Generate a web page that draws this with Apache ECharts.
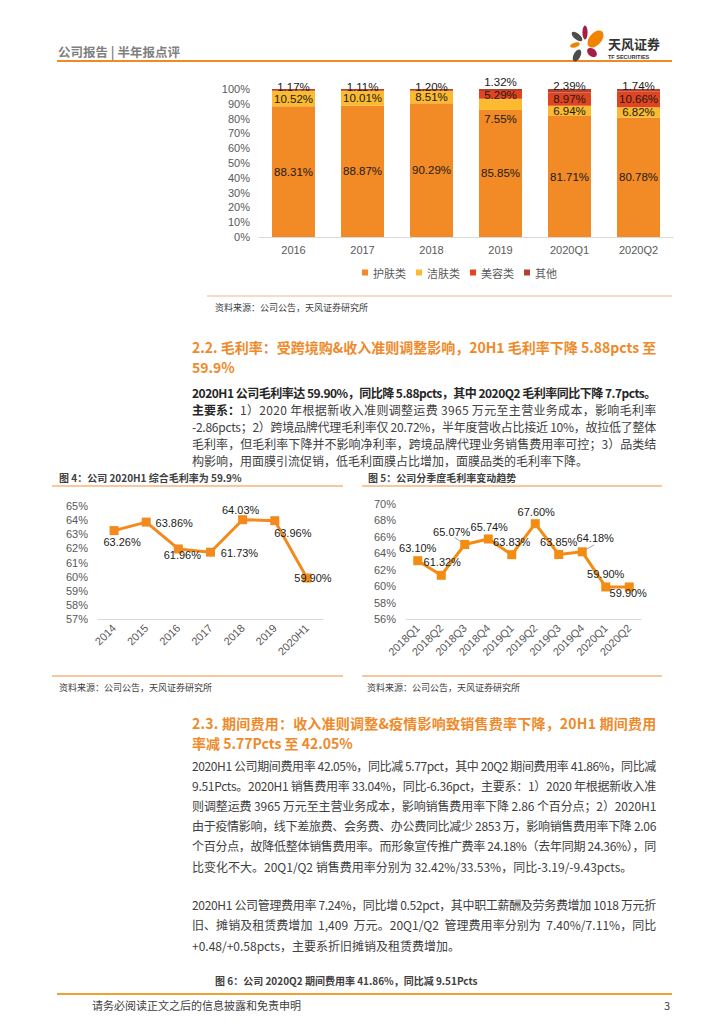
<!DOCTYPE html>
<html><head><meta charset="utf-8">
<script src="https://cdn.jsdelivr.net/npm/echarts@6/dist/echarts.min.js"></script>
<style>html,body{margin:0;padding:0;background:#fff}#c{width:724px;height:1024px}</style>
</head><body><div id="c"></div>
<script>
// ---------- data ----------
const barCats = ['2016','2017','2018','2019','2020Q1','2020Q2'];
const skinCare = [88.31, 88.87, 90.29, 85.85, 81.71, 80.78];
const cleansing = [10.52, 10.01, 8.51, 7.55, 6.94, 6.82];
const makeup = [0, 0, 0, 5.29, 8.97, 10.66];
const others = [1.17, 1.11, 1.20, 1.32, 2.39, 1.74];
const barLegend = ['护肤类','洁肤类','美容类','其他'];

const yearCats = ['2014','2015','2016','2017','2018','2019','2020H1'];
const yearMargin = [63.26, 63.86, 61.96, 61.73, 64.03, 63.96, 59.90];

const quarterCats = ['2018Q1','2018Q2','2018Q3','2018Q4','2019Q1','2019Q2','2019Q3','2019Q4','2020Q1','2020Q2'];
const quarterMargin = [63.10, 61.32, 65.07, 65.74, 63.83, 67.60, 63.85, 64.18, 59.90, 59.90];

// ---------- texts ----------
const headerText = '公司报告 | 半年报点评';
const heading22 = ['2.2. 毛利率：受跨境购&收入准则调整影响，20H1 毛利率下降 5.88pcts 至', '59.9%'];
const para22 = [
  '2020H1 公司毛利率达 59.90%，同比降 5.88pcts，其中 2020Q2 毛利率同比下降 7.7pcts。',
  '1）2020 年根据新收入准则调整运费 3965 万元至主营业务成本，影响毛利率',
  '-2.86pcts；2）跨境品牌代理毛利率仅 20.72%，半年度营收占比接近 10%，故拉低了整体',
  '毛利率，但毛利率下降并不影响净利率，跨境品牌代理业务销售费用率可控；3）品类结',
  '构影响，用面膜引流促销，低毛利面膜占比增加，面膜品类的毛利率下降。'
];
const heading23 = ['2.3. 期间费用：收入准则调整&疫情影响致销售费率下降，20H1 期间费用', '率减 5.77Pcts 至 42.05%'];
const para23 = [
  '2020H1 公司期间费用率 42.05%，同比减 5.77pct，其中 20Q2 期间费用率 41.86%，同比减',
  '9.51Pcts。2020H1 销售费用率 33.04%，同比-6.36pct，主要系：1）2020 年根据新收入准',
  '则调整运费 3965 万元至主营业务成本，影响销售费用率下降 2.86 个百分点；2）2020H1',
  '由于疫情影响，线下差旅费、会务费、办公费同比减少 2853 万，影响销售费用率下降 2.06',
  '个百分点，故降低整体销售费用率。而形象宣传推广费率 24.18%（去年同期 24.36%），同',
  '比变化不大。20Q1/Q2 销售费用率分别为 32.42%/33.53%，同比-3.19/-9.43pcts。'
];
const para24 = [
  '2020H1 公司管理费用率 7.24%，同比增 0.52pct，其中职工薪酬及劳务费增加 1018 万元折',
  '旧、摊销及租赁费增加  1,409  万元。20Q1/Q2  管理费用率分别为  7.40%/7.11%，同比',
  '+0.48/+0.58pcts，主要系折旧摊销及租赁费增加。'
];
const source = '资料来源：公司公告，天风证券研究所';
const fig4Title = '图 4：公司 2020H1 综合毛利率为 59.9%';
const fig5Title = '图 5：公司分季度毛利率变动趋势';
const fig6Title = '图 6：公司 2020Q2 期间费用率 41.86%，同比减 9.51Pcts';
const footerText = '请务必阅读正文之后的信息披露和免责申明';

// ---------- styles ----------
const CJK = '"Noto Sans CJK SC", sans-serif';
const NUM = '"Liberation Sans", Arial, "Noto Sans CJK SC", sans-serif';
const ORANGE = '#F28A26', YELLOW = '#FBBA30', RED = '#E1451F', DARKRED = '#B4402E';
const AXISTXT = '#595959';
const TEXTX = 192;

function T(x, y, text, size, o) {
  o = o || {};
  return {type:'text', x:x, y:y, silent:true, style:{text:text, fontSize:size, fontFamily:o.ff||CJK,
    fontWeight:o.bold?'bold':'normal', fill:o.color||'#404040', textAlign:o.align||'left', textVerticalAlign:'middle'}};
}
function L(x1, y1, x2, y2, color, w) {
  return {type:'line', silent:true, shape:{x1:x1,y1:y1,x2:x2,y2:y2}, style:{stroke:color, lineWidth:w}};
}
function petal(cx, cy, a, b, rot, color) {
  return {type:'circle', x:cx, y:cy, scaleX:a, scaleY:b, rotation:rot, silent:true, shape:{cx:0,cy:0,r:1}, style:{fill:color}};
}

const justified = {}; // text -> start x, for full-width lines
const g = [];
// header
g.push(T(58, 51, headerText, 12.5, {bold:true, color:'#7f7f7f'}));
g.push(L(57, 61, 672, 61, '#F08A24', 2));
g.push(petal(585, 32.5, 2.6, 7, 0, '#A61E45'));
g.push(petal(577, 36.5, 6.5, 3, -0.7, '#4D4D4D'));
g.push(petal(595.5, 39, 10, 6, 0.85, '#F08300'));
g.push(petal(575, 45, 5, 2.5, 0.3, '#F08300'));
g.push(petal(592, 52.5, 5.5, 3.8, -0.7, '#A61E45'));
g.push(petal(577, 55.5, 6.5, 3.4, 1.1, '#4D4D4D'));
g.push(T(608, 43.5, '天风证券', 13, {bold:true, color:'#333'}));
g.push(T(608, 57, 'TF SECURITIES', 5.5, {bold:true, color:'#333', ff:NUM}));
// chart 1 source
g.push(L(207, 296, 672, 296, '#F9CFAA', 1.5));
g.push(T(215, 307, source, 9, {color:'#404040'}));
// 2.2
heading22.forEach((s, i) => g.push(T(TEXTX, 347 + 20 * i, s, 14, {bold:true, color:'#EE8A2A'})));
g.push(T(TEXTX, 392, para22[0], 12, {bold:true, color:'#262626'}));
justified[para22[0]] = TEXTX;
g.push(T(TEXTX, 409, '主要系：', 12, {bold:true, color:'#262626'}));
g.push(T(TEXTX + 48, 409, para22[1], 12, {color:'#404040'}));
justified[para22[1]] = TEXTX + 48;
for (let i = 2; i < para22.length; i++) {
  g.push(T(TEXTX, 392 + 17 * i, para22[i], 12, {color:'#404040'}));
  if (i < para22.length - 1) justified[para22[i]] = TEXTX;
}
// figure frames
g.push(T(59, 477, fig4Title, 10, {bold:true, color:'#404040'}));
g.push(T(368, 477, fig5Title, 10, {bold:true, color:'#404040'}));
g.push(L(52, 486, 343, 486, '#F6B47C', 1.5));
g.push(L(362, 486, 662, 486, '#F6B47C', 1.5));
g.push(L(52, 676, 343, 676, '#F6B47C', 1.5));
g.push(L(362, 676, 662, 676, '#F6B47C', 1.5));
g.push(T(59, 687, source, 9, {color:'#404040'}));
g.push(T(367, 687, source, 9, {color:'#404040'}));
// 2.3
heading23.forEach((s, i) => g.push(T(TEXTX, 723 + 20 * i, s, 14, {bold:true, color:'#EE8A2A'})));
justified[heading23[0]] = TEXTX;
para23.forEach((s, i) => {
  g.push(T(TEXTX, 765 + 20.2 * i, s, 12, {color:'#404040'}));
  if (i < para23.length - 1) justified[s] = TEXTX;
});
para24.forEach((s, i) => {
  g.push(T(TEXTX, 904 + 20.5 * i, s, 12, {color:'#404040'}));
  if (i < para24.length - 1) justified[s] = TEXTX;
});
g.push(T(215, 980, fig6Title, 10, {bold:true, color:'#404040'}));
// footer
g.push(L(57, 994, 672, 994, '#F0A030', 2));
g.push(T(92, 1005, footerText, 11, {color:'#404040'}));
g.push(T(670, 1005, '3', 11, {color:'#404040', align:'right'}));

// ---------- chart option ----------
const barLabel = {show:true, position:'inside', fontSize:11.5, fontFamily:NUM, color:'#1a1a1a',
  formatter: p => (p.value ? p.value.toFixed(2) + '%' : '')};
const otherOffsets = [[0,-3],[0,-3],[0,-3],[0,-8],[0,-5],[0,-4]];
const fig4Offsets = [[8,11],[28,1],[4,6],[29,1],[-2,-10],[18,12],[6,0]];
const fig5Offsets = [[0,-13],[1,-13],[-13,-12],[1,-12],[0,-13],[1,-12],[0,-13],[13,-14],[0,-13],[-1,6]];
const lineLabel = {show:true, position:'inside', fontSize:11, fontFamily:NUM, color:'#1a1a1a', formatter: p => p.value.toFixed(2) + '%'};

const yAxisCommon = {type:'value', splitLine:{show:false}, axisLine:{show:false}, axisTick:{show:false},
  axisLabel:{formatter:'{value}%', color:AXISTXT, fontSize:11, fontFamily:NUM}};
const xAxisCommon = {type:'category', axisTick:{show:false}, axisLine:{lineStyle:{color:'#D9D9D9'}},
  axisLabel:{color:AXISTXT, fontSize:11, fontFamily:NUM}};

const option = {
  animation:false,
  legend:{data:barLegend, left:357, top:262, itemWidth:6, itemHeight:6, itemGap:10, icon:'rect',
    textStyle:{color:AXISTXT, fontSize:11, fontFamily:CJK}, selectedMode:false},
  grid:[
    {left:259, right:51, top:89, bottom:787},
    {left:98, right:401, top:506, bottom:405},
    {left:406, right:83, top:504, bottom:405}
  ],
  xAxis:[
    Object.assign({}, xAxisCommon, {gridIndex:0, data:barCats, axisLabel:Object.assign({}, xAxisCommon.axisLabel, {margin:7})}),
    Object.assign({}, xAxisCommon, {gridIndex:1, data:yearCats, axisLabel:Object.assign({}, xAxisCommon.axisLabel, {rotate:45, margin:7})}),
    Object.assign({}, xAxisCommon, {gridIndex:2, data:quarterCats, axisLabel:Object.assign({}, xAxisCommon.axisLabel, {rotate:45, margin:7})})
  ],
  yAxis:[
    Object.assign({}, yAxisCommon, {gridIndex:0, min:0, max:100, interval:10, axisLabel:Object.assign({}, yAxisCommon.axisLabel, {margin:9})}),
    Object.assign({}, yAxisCommon, {gridIndex:1, min:57, max:65, interval:1, axisLabel:Object.assign({}, yAxisCommon.axisLabel, {margin:10})}),
    Object.assign({}, yAxisCommon, {gridIndex:2, min:56, max:70, interval:2, axisLabel:Object.assign({}, yAxisCommon.axisLabel, {margin:10})})
  ],
  series:[
    {name:'护肤类', type:'bar', stack:'s', xAxisIndex:0, yAxisIndex:0, barWidth:43, data:skinCare,
      itemStyle:{color:ORANGE}, label:barLabel},
    {name:'洁肤类', type:'bar', stack:'s', xAxisIndex:0, yAxisIndex:0, barWidth:43,
      data:cleansing.map((v, i) => i === 3 ? {value:v, label:{offset:[0,15]}} : v),
      itemStyle:{color:YELLOW}, label:barLabel},
    {name:'美容类', type:'bar', stack:'s', xAxisIndex:0, yAxisIndex:0, barWidth:43, data:makeup,
      itemStyle:{color:RED}, label:barLabel},
    {name:'其他', type:'bar', stack:'s', xAxisIndex:0, yAxisIndex:0, barWidth:43,
      data:others.map((v, i) => ({value:v, label:{offset:otherOffsets[i]}})),
      itemStyle:{color:DARKRED}, label:barLabel},
    {name:'年度毛利率', type:'line', xAxisIndex:1, yAxisIndex:1, symbol:'rect', symbolSize:9,
      data:yearMargin.map((v, i) => ({value:v, label:{offset:fig4Offsets[i]}})),
      lineStyle:{color:'#F28A1E', width:3}, itemStyle:{color:'#F28A1E'}, label:lineLabel},
    {name:'季度毛利率', type:'line', xAxisIndex:2, yAxisIndex:2, symbol:'rect', symbolSize:9,
      data:quarterMargin.map((v, i) => ({value:v, label:{offset:fig5Offsets[i]}})),
      lineStyle:{color:'#F28C12', width:3}, itemStyle:{color:'#F28C12'}, label:lineLabel}
  ],
  graphic:g
};

const chart = echarts.init(document.getElementById('c'), null, {renderer:'svg', width:724, height:1024});
chart.setOption(option);

// leader lines computed from the axes
const extra = [];
const p19 = chart.convertToPixel({gridIndex:0}, [3, skinCare[3] + cleansing[3] / 2]);
extra.push(L(p19[0] - 21, p19[1], p19[0] + 1, p19[1] + 6, '#A6A6A6', 1));
const q3 = chart.convertToPixel({gridIndex:2}, [2, quarterMargin[2]]);
extra.push(L(q3[0] - 10, q3[1] - 7, q3[0] - 3, q3[1] - 2, '#A6A6A6', 1));
const q8 = chart.convertToPixel({gridIndex:2}, [7, quarterMargin[7]]);
extra.push(L(q8[0] + 3, q8[1] - 2, q8[0] + 12, q8[1] - 7, '#A6A6A6', 1));
chart.setOption({graphic:g.concat(extra)});

// justify full paragraph lines to the width of the first heading line (as the report does)
function justify() {
  const texts = Array.from(document.querySelectorAll('#c svg text'));
  const head = texts.find(t => t.textContent === heading22[0]);
  if (!head || !head.getComputedTextLength) return;
  const right = TEXTX + head.getComputedTextLength();
  texts.forEach(t => {
    const s = t.textContent;
    if (Object.prototype.hasOwnProperty.call(justified, s)) {
      t.setAttribute('textLength', (right - justified[s]).toFixed(1));
      t.setAttribute('lengthAdjust', 'spacing');
    }
  });
}
justify();
chart.on('finished', justify);
setTimeout(justify, 50);
</script>
</body></html>
